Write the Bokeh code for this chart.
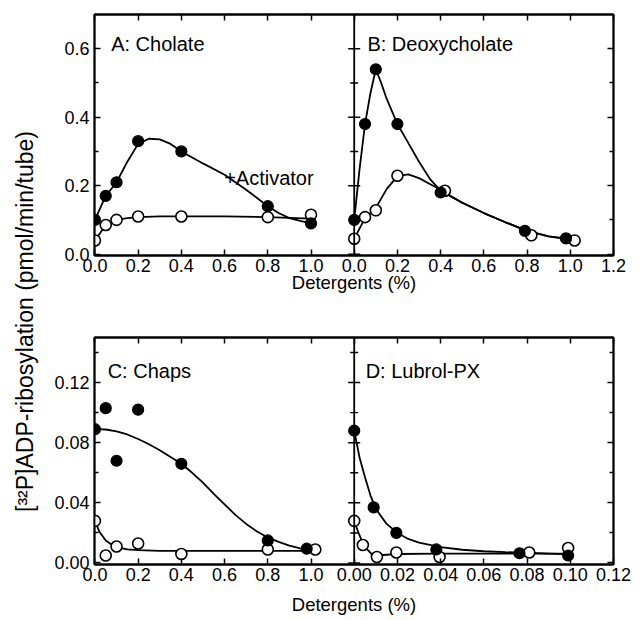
from bokeh.plotting import figure
from bokeh.models import (Range1d, LinearAxis, FixedTicker, Label, CustomJSTickFormatter, Span)
from bokeh.layouts import row, column
from bokeh.embed import file_html
from bokeh.resources import INLINE
import math

FONT = "Liberation Sans"

# ---------------- data ----------------
# Panel A: Cholate
a_fill_x = [0.0, 0.05, 0.1, 0.2, 0.4, 0.8, 1.0]
a_fill_y = [0.10, 0.17, 0.21, 0.33, 0.30, 0.14, 0.09]
a_open_x = [0.0, 0.05, 0.1, 0.2, 0.4, 0.8, 1.0]
a_open_y = [0.04, 0.085, 0.10, 0.11, 0.11, 0.108, 0.115]
a_fill_cx = [0.0, 0.05, 0.1, 0.15, 0.2, 0.25, 0.3, 0.35, 0.4, 0.5, 0.6, 0.7, 0.8, 0.85, 0.9, 0.95, 1.0]
a_fill_cy = [0.10, 0.17, 0.21, 0.27, 0.322, 0.337, 0.335, 0.322, 0.30, 0.265, 0.232, 0.188, 0.14, 0.12, 0.105, 0.097, 0.09]
a_open_cx = [0.0, 0.05, 0.1, 0.15, 0.2, 0.3, 0.4, 0.6, 0.8, 0.9, 1.0]
a_open_cy = [0.04, 0.085, 0.10, 0.105, 0.108, 0.11, 0.11, 0.11, 0.108, 0.106, 0.104]

# Panel B: Deoxycholate
b_fill_x = [0.0, 0.05, 0.1, 0.2, 0.4, 0.79, 0.98]
b_fill_y = [0.10, 0.38, 0.54, 0.38, 0.18, 0.068, 0.046]
b_open_x = [0.0, 0.05, 0.1, 0.2, 0.42, 0.82, 1.02]
b_open_y = [0.045, 0.108, 0.128, 0.229, 0.185, 0.055, 0.04]
b_fill_cx = [0.0, 0.025, 0.05, 0.075, 0.1, 0.125, 0.15, 0.2, 0.25, 0.3, 0.35, 0.4, 0.45, 0.5, 0.6, 0.7, 0.8, 0.9, 0.98]
b_fill_cy = [0.10, 0.25, 0.38, 0.47, 0.54, 0.50, 0.454, 0.38, 0.325, 0.27, 0.22, 0.185, 0.168, 0.15, 0.12, 0.093, 0.068, 0.052, 0.046]
b_open_cx = [0.0, 0.05, 0.1, 0.15, 0.2, 0.25, 0.3, 0.35, 0.4, 0.45, 0.5, 0.6, 0.7, 0.8, 0.9, 1.02]
b_open_cy = [0.045, 0.105, 0.135, 0.19, 0.228, 0.233, 0.222, 0.205, 0.188, 0.168, 0.15, 0.12, 0.093, 0.068, 0.052, 0.04]

# Panel C: Chaps
c_fill_x = [0.0, 0.05, 0.1, 0.2, 0.4, 0.8, 0.98]
c_fill_y = [0.089, 0.103, 0.068, 0.102, 0.066, 0.015, 0.0095]
c_open_x = [0.0, 0.05, 0.1, 0.2, 0.4, 0.8, 1.02]
c_open_y = [0.028, 0.005, 0.011, 0.013, 0.006, 0.009, 0.009]
c_fill_cx = [0.0, 0.05, 0.1, 0.15, 0.2, 0.25, 0.3, 0.35, 0.4, 0.45, 0.5, 0.55, 0.6, 0.65, 0.7, 0.75, 0.8, 0.85, 0.9, 0.95, 0.98]
c_fill_cy = [0.089, 0.0888, 0.0875, 0.0855, 0.0825, 0.079, 0.075, 0.0705, 0.066, 0.06, 0.0535, 0.046, 0.039, 0.032, 0.026, 0.021, 0.017, 0.014, 0.0115, 0.0098, 0.009]
c_open_cx = [0.0, 0.02, 0.05, 0.08, 0.1, 0.15, 0.2, 0.3, 0.4, 0.6, 0.8, 1.0]
c_open_cy = [0.028, 0.021, 0.015, 0.012, 0.0105, 0.009, 0.0085, 0.008, 0.008, 0.008, 0.008, 0.008]

# Panel D: Lubrol-PX
d_fill_x = [0.0, 0.009, 0.0195, 0.038, 0.0765, 0.099]
d_fill_y = [0.088, 0.037, 0.020, 0.009, 0.0065, 0.005]
d_open_x = [0.0, 0.004, 0.0105, 0.0195, 0.0395, 0.081, 0.099]
d_open_y = [0.028, 0.012, 0.004, 0.007, 0.004, 0.007, 0.010]
d_fill_cx = [0.0, 0.0025, 0.005, 0.0075, 0.01, 0.015, 0.02, 0.025, 0.03, 0.04, 0.05, 0.06, 0.07, 0.08, 0.09, 0.1]
d_fill_cy = [0.088, 0.07, 0.057, 0.045, 0.036, 0.026, 0.02, 0.016, 0.0135, 0.0105, 0.0088, 0.0078, 0.0072, 0.0068, 0.0063, 0.0058]
d_open_cx = [0.0, 0.002, 0.004, 0.006, 0.008, 0.01, 0.015, 0.02, 0.04, 0.06, 0.08, 0.1]
d_open_cy = [0.028, 0.02, 0.013, 0.009, 0.006, 0.005, 0.0055, 0.006, 0.0062, 0.0063, 0.0063, 0.0062]

# ticks
top_y_major = [0.0, 0.2, 0.4, 0.6]
top_y_minor = [0.1, 0.3, 0.5]
bot_y_major = [0.0, 0.04, 0.08, 0.12]
bot_y_minor = [0.02, 0.06, 0.10, 0.14]
a_x_ticks = [0.0, 0.2, 0.4, 0.6, 0.8, 1.0]
b_x_ticks = [0.0, 0.2, 0.4, 0.6, 0.8, 1.0, 1.2]
d_x_ticks = [0.0, 0.02, 0.04, 0.06, 0.08, 0.10, 0.12]

X_LABEL = "Detergents (%)"
Y_LABEL = "[\u00b3\u00b2P]ADP-ribosylation (pmol/min/tube)"

# Each row is one frame: the left panel uses the main x range (0..1.2),
# the right panel uses an extra x range whose 0 sits on the centre divider.
SPLIT = 1.2
X0 = -0.002


def style_axis(ax, show):
    ax.axis_line_color = "black"
    ax.axis_line_width = 1.8
    ax.major_tick_in = 6
    ax.major_tick_out = 0
    ax.major_tick_line_width = 1.5
    ax.major_tick_line_color = "black"
    ax.minor_tick_in = 4
    ax.minor_tick_out = 0
    ax.minor_tick_line_width = 1.4
    ax.minor_tick_line_color = "black"
    ax.major_label_text_font = FONT
    ax.major_label_text_color = "black"
    ax.major_label_text_font_size = "18px"
    ax.major_label_standoff = 5
    if not show:
        ax.major_label_text_font_size = "0px"
        ax.major_label_text_color = None
        ax.major_label_standoff = 0


def make_row(right_scale, right_ticks, right_digits, yr, yticks, yminor, ydigits,
             fh, mbt, label_standoff):
    right_name = "r"
    p = figure(x_range=Range1d(X0, 2 * SPLIT), y_range=Range1d(*yr),
               frame_width=519, frame_height=fh,
               min_border_left=54, min_border_right=21, min_border_top=mbt, min_border_bottom=48,
               x_axis_type=None, y_axis_type=None, toolbar_location=None, output_backend="svg",
               background_fill_color="white", border_fill_color="white")
    p.extra_x_ranges = {right_name: Range1d((X0 - SPLIT) * right_scale, SPLIT * right_scale)}
    p.outline_line_color = "black"
    p.outline_line_width = 1.8

    xt = list(a_x_ticks) + [SPLIT + t / right_scale for t in right_ticks]
    fmt = CustomJSTickFormatter(args=dict(split=SPLIT, scale=right_scale, rd=right_digits),
                                code="""
        if (tick < split - 1e-9) { return tick.toFixed(1); }
        return Math.abs((tick - split) * scale).toFixed(rd);
    """)
    yfmt = CustomJSTickFormatter(args=dict(d=ydigits), code="return tick.toFixed(d);")

    below = LinearAxis(ticker=FixedTicker(ticks=xt), formatter=fmt)
    style_axis(below, True)
    below.major_label_standoff = 3
    below.axis_label = X_LABEL
    below.axis_label_text_font = FONT
    below.axis_label_text_font_size = "18.5px"
    below.axis_label_text_font_style = "normal"
    below.axis_label_text_color = "black"
    below.axis_label_standoff = label_standoff
    above = LinearAxis(ticker=FixedTicker(ticks=xt))
    style_axis(above, False)
    left = LinearAxis(ticker=FixedTicker(ticks=yticks, minor_ticks=yminor), formatter=yfmt)
    style_axis(left, True)
    right = LinearAxis(ticker=FixedTicker(ticks=yticks, minor_ticks=yminor))
    style_axis(right, False)
    p.add_layout(below, "below")
    p.add_layout(above, "above")
    p.add_layout(left, "left")
    p.add_layout(right, "right")

    # centre divider with its tick marks on both sides
    p.add_layout(Span(location=SPLIT, dimension="height", line_color="black", line_width=1.8))
    p.scatter([SPLIT] * len(yticks), yticks, marker="dash", size=12, line_color="black", line_width=1.5)
    p.scatter([SPLIT] * len(yminor), yminor, marker="dash", size=8, line_color="black", line_width=1.4)
    return p, right_name


def draw(p, fx, fy, ox, oy, fcx, fcy, ocx, ocy, rn="default"):
    p.line(fcx, fcy, line_color="black", line_width=1.8, x_range_name=rn)
    p.line(ocx, ocy, line_color="black", line_width=1.8, x_range_name=rn)
    p.scatter(ox, oy, size=11, marker="circle", fill_color="white", line_color="black",
              line_width=1.6, x_range_name=rn)
    p.scatter(fx, fy, size=11, marker="circle", fill_color="black", line_color="black",
              line_width=1.2, x_range_name=rn)


def tag(p, x, y, text, rn="default", size="20px"):
    p.add_layout(Label(x=x, y=y, text=text, text_font=FONT, text_font_size=size, x_range_name=rn,
                       text_color="black", text_baseline="alphabetic", text_align="left"))


top, rn = make_row(1.0, b_x_ticks, 1, (-0.004, 0.70), top_y_major, top_y_minor, 1, 241, 14, -3)
draw(top, a_fill_x, a_fill_y, a_open_x, a_open_y, a_fill_cx, a_fill_cy, a_open_cx, a_open_cy)
draw(top, b_fill_x, b_fill_y, b_open_x, b_open_y, b_fill_cx, b_fill_cy, b_open_cx, b_open_cy, rn)
tag(top, 0.075, 0.613, "A: Cholate")
tag(top, 0.598, 0.222, "+Activator")
tag(top, 0.061, 0.613, "B: Deoxycholate", rn)

bot, rn2 = make_row(0.1, d_x_ticks, 2, (-0.001, 0.15), bot_y_major, bot_y_minor, 2, 227, 34, 10)
draw(bot, c_fill_x, c_fill_y, c_open_x, c_open_y, c_fill_cx, c_fill_cy, c_open_cx, c_open_cy)
draw(bot, d_fill_x, d_fill_y, d_open_x, d_open_y, d_fill_cx, d_fill_cy, d_open_cx, d_open_cy, rn2)
tag(bot, 0.059, 0.1275, "C: Chaps")
tag(bot, 0.0053, 0.1275, "D: Lubrol-PX", rn2)

TOTAL_H = (14 + 241 + 48) + (34 + 227 + 48)
yl = figure(x_range=Range1d(0, 40), y_range=Range1d(0, TOTAL_H), frame_width=40, frame_height=TOTAL_H,
            min_border=0, x_axis_type=None, y_axis_type=None, toolbar_location=None,
            output_backend="svg", background_fill_color="white", border_fill_color="white")
yl.outline_line_color = None
yl.xgrid.visible = False
yl.ygrid.visible = False
yl.add_layout(Label(x=24, y=TOTAL_H - 321, text=Y_LABEL, text_font=FONT, text_font_size="23px",
                    angle=math.pi / 2, text_color="black", text_align="center", text_baseline="middle"))

layout = row(yl, column(top, bot, spacing=0), spacing=0)

open("out.html", "w").write(file_html(layout, INLINE))
